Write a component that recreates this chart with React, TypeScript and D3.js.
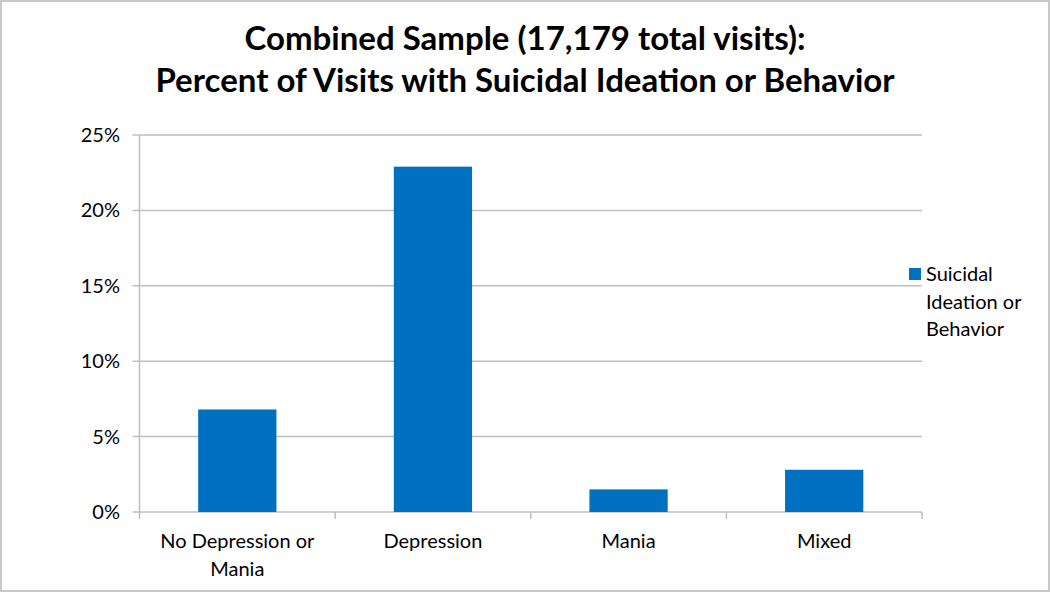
import React from "react";
import * as d3 from "d3";

const categories: string[][] = [["No Depression or", "Mania"], ["Depression"], ["Mania"], ["Mixed"]];
const categoryKeys = ["No Depression or Mania", "Depression", "Mania", "Mixed"];
const values = [6.8, 22.9, 1.5, 2.8];
const yTicks = [0, 5, 10, 15, 20, 25];
const titleLines = ["Combined Sample (17,179 total visits):", "Percent of Visits with Suicidal Ideation or Behavior"];
const legendLines = ["Suicidal", "Ideation or", "Behavior"];

const W = 1050;
const H = 592;
const FONT = "Lato, 'Open Sans', sans-serif";

export default function App() {
  const left = 139.5;
  const right = 922;
  const top = 135;
  const bottom = 512;
  const x = d3.scaleBand<string>().domain(categoryKeys).range([left, right]).paddingInner(0.6).paddingOuter(0.3);
  const xb = d3.scaleBand<string>().domain(categoryKeys).range([left, right]);
  const y = d3.scaleLinear().domain([0, 25]).range([bottom, top]);
  const grid = "#bfbfbf";
  return (
    <svg width={W} height={H} style={{ position: "absolute", left: 0, top: 0 }} fontFamily={FONT}>
      <rect x={1} y={1} width={W - 2} height={H - 2} fill="#fff" stroke="#c8c8c8" strokeWidth={2} />
      {titleLines.map((t, i) => (
        <text key={i} x={525} y={50 + i * 42} textAnchor="middle" fontSize={33} fontWeight="bold" fill="#000">
          {t}
        </text>
      ))}
      {yTicks.map((t) => (
        <g key={t}>
          <line x1={left - 7} x2={right} y1={y(t)} y2={y(t)} stroke={grid} strokeWidth={1.5} />
          <text x={120} y={y(t)} dy="0.35em" textAnchor="end" fontSize={20} fill="#000">
            {t}%
          </text>
        </g>
      ))}
      <line x1={left} x2={left} y1={top} y2={bottom} stroke={grid} strokeWidth={1.5} />
      {categoryKeys.map((k, i) => (
        <line key={"t" + i} x1={xb(k)!} x2={xb(k)!} y1={bottom} y2={bottom + 7} stroke={grid} strokeWidth={1.5} />
      ))}
      <line x1={right} x2={right} y1={bottom} y2={bottom + 7} stroke={grid} strokeWidth={1.5} />
      {categoryKeys.map((k, i) => (
        <rect key={k} x={x(k)!} y={y(values[i])} width={x.bandwidth()} height={bottom - y(values[i])} fill="#0070C0" />
      ))}
      {categoryKeys.map((k, i) => (
        <text key={"l" + k} x={xb(k)! + xb.bandwidth() / 2} textAnchor="middle" fontSize={20} fill="#000">
          {categories[i].map((line, j) => (
            <tspan key={j} x={xb(k)! + xb.bandwidth() / 2} y={548 + j * 28}>
              {line}
            </tspan>
          ))}
        </text>
      ))}
      <rect x={909} y={268} width={12} height={12} fill="#0070C0" />
      {legendLines.map((t, i) => (
        <text key={t} x={926} y={281 + i * 27.5} fontSize={20} fill="#000">
          {t}
        </text>
      ))}
    </svg>
  );
}
